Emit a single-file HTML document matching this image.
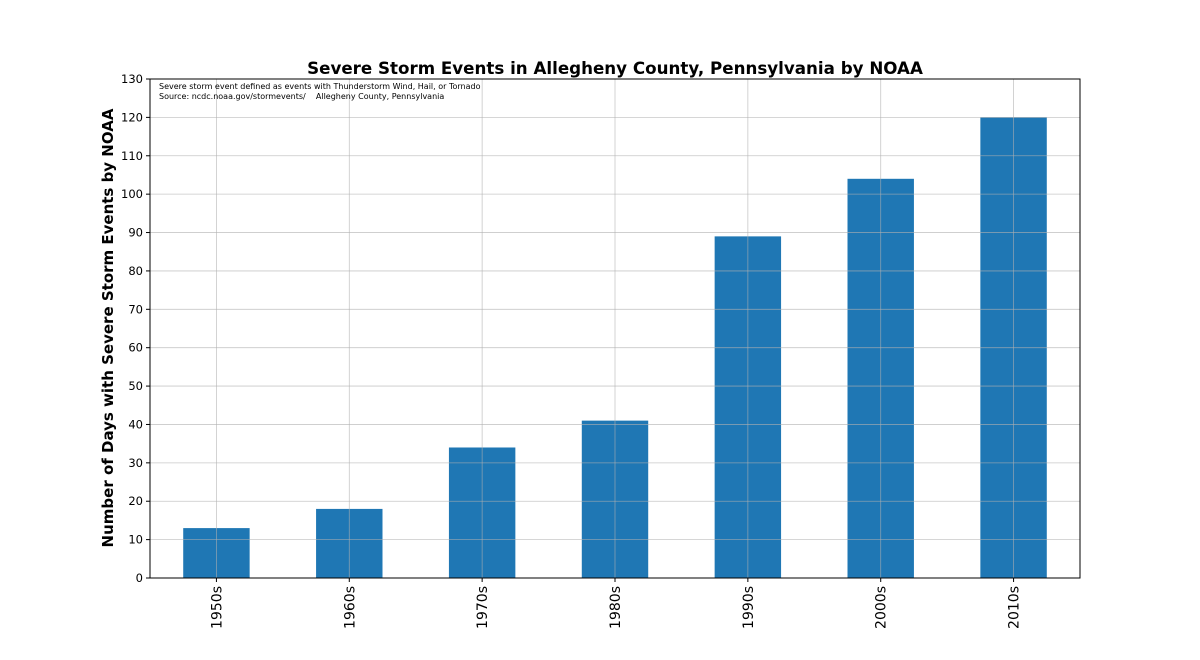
<!DOCTYPE html>
<html><head><meta charset="utf-8"><style>
body{margin:0;background:#fff;}
svg{display:block;font-family:"DejaVu Sans","Liberation Sans",sans-serif;}
</style></head><body>
<svg id="chart" width="1200" height="660">
<text x="615" y="74" text-anchor="middle" font-size="16.7" font-weight="bold" fill="#000">Severe Storm Events in Allegheny County, Pennsylvania by NOAA</text>
<text transform="translate(113,328) rotate(-90)" text-anchor="middle" font-size="15" font-weight="bold" fill="#000">Number of Days with Severe Storm Events by NOAA</text>
<g id="bars"></g><g id="grid"></g><g id="yticks"></g><g id="xticks"></g>
<rect x="150" y="79" width="930" height="499" fill="none" stroke="#000" stroke-width="1"/>
<text x="159" y="89" font-size="8" fill="#000">Severe storm event defined as events with Thunderstorm Wind, Hail, or Tornado</text>
<text x="159" y="99" font-size="8" fill="#000" xml:space="preserve" style="white-space:pre">Source: ncdc.noaa.gov/stormevents/    Allegheny County, Pennsylvania</text>
</svg>
<script>
const categories=["1950s","1960s","1970s","1980s","1990s","2000s","2010s"];
const values=[13,18,34,41,89,104,120];
const yTicks=[0,10,20,30,40,50,60,70,80,90,100,110,120,130];
const NS="http://www.w3.org/2000/svg";
const L=150,R=1080,T=79,B=578,yMax=130;
const y=v=>B-(v/yMax)*(B-T);
const step=(R-L)/categories.length;
const x=i=>L+step*(i+0.5);
const bw=step*0.5;
function mk(tag,a,p){const e=document.createElementNS(NS,tag);for(const k in a)e.setAttribute(k,a[k]);p.appendChild(e);return e;}
const gb=document.getElementById('bars'),gg=document.getElementById('grid'),gy=document.getElementById('yticks'),gx=document.getElementById('xticks');
values.forEach((v,i)=>{
 const r=mk('rect',{x:x(i)-bw/2,y:y(v),width:bw,height:B-y(v),fill:'#1f77b4'},gb);
 
 
});
yTicks.forEach(t=>{
 const l=mk('line',{x1:L,x2:R,y1:y(t),y2:y(t),stroke:'#b0b0b0','stroke-opacity':0.7,'stroke-width':0.8},gg);
 
 
 mk('line',{x1:L-4,x2:L,y1:y(t),y2:y(t),stroke:'#000'},gy);
 const tx=mk('text',{x:L-7,y:y(t)+4,'text-anchor':'end','font-size':11.5,fill:'#000'},gy);
 tx.textContent=t;
 
 
});
categories.forEach((c,i)=>{
 const l=mk('line',{x1:x(i),x2:x(i),y1:T,y2:B,stroke:'#b0b0b0','stroke-opacity':0.7,'stroke-width':0.8},gg);
 
 
 mk('line',{x1:x(i),x2:x(i),y1:B,y2:B+4,stroke:'#000'},gx);
 const tx=mk('text',{transform:`translate(${x(i)+5},${B+8}) rotate(-90)`,'text-anchor':'end','font-size':14,fill:'#000'},gx);
 tx.textContent=c;
 
 
});
</script>
</body></html>
